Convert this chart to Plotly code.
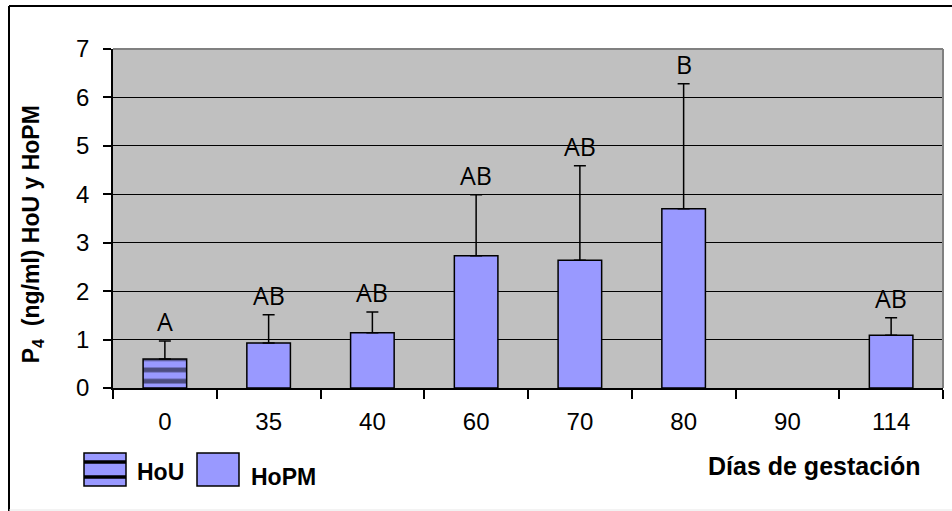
import plotly.graph_objects as go

categories = ["0", "35", "40", "60", "70", "80", "90", "114"]

hou_days = ["0"]
hou_vals = [0.60]
hou_err = [0.37]

hopm_days = ["35", "40", "60", "70", "80", "114"]
hopm_vals = [0.93, 1.14, 2.73, 2.64, 3.70, 1.09]
hopm_err = [0.58, 0.43, 1.26, 1.95, 2.58, 0.36]

letter_days = ["0", "35", "40", "60", "70", "80", "114"]
letters = ["A", "AB", "AB", "AB", "AB", "B", "AB"]

y_ticks = [0, 1, 2, 3, 4, 5, 6, 7]

BAR = "#9999FF"
PLOTBG = "#C0C0C0"

fig = go.Figure()
fig.add_trace(go.Bar(
    x=hou_days, y=hou_vals, name="HoU", width=0.42,
    marker=dict(color=BAR, line=dict(color="black", width=1.5),
                pattern=dict(shape="-", size=11.26, solidity=0.42, fgcolor="black", bgcolor=BAR)),
    error_y=dict(type="data", symmetric=False, array=hou_err, arrayminus=[0] * len(hou_err),
                 color="black", thickness=1.5, width=6),
))
fig.add_trace(go.Bar(
    x=hopm_days, y=hopm_vals, name="HoPM", width=0.42,
    marker=dict(color=BAR, line=dict(color="black", width=1.5)),
    error_y=dict(type="data", symmetric=False, array=hopm_err, arrayminus=[0] * len(hopm_err),
                 color="black", thickness=1.5, width=6),
))

# significance letters above error bars
tops = {}
for d, v, e in zip(hou_days, hou_vals, hou_err):
    tops[d] = v + e
for d, v, e in zip(hopm_days, hopm_vals, hopm_err):
    tops[d] = v + e
for d, t in zip(letter_days, letters):
    fig.add_annotation(x=categories.index(d), y=tops[d], text=t, showarrow=False,
                       yanchor="middle", yshift=20,
                       font=dict(family="Open Sans", size=25, color="black"))

# y-axis title
fig.add_annotation(xref="paper", yref="paper", x=-0.097, y=0.455, xanchor="center", yanchor="middle",
                   text="<b>P<sub>4</sub>  (ng/ml) HoU y HoPM</b>", textangle=-90, showarrow=False,
                   font=dict(family="Liberation Sans", size=23, color="black"))
# x-axis title
fig.add_annotation(xref="paper", yref="paper", x=0.976, y=-0.23, xanchor="right", yanchor="middle",
                   text="<b>Días de gestación</b>", showarrow=False,
                   font=dict(family="Liberation Sans", size=25, color="black"))

# manual legend (paper coords converted from pixels)
W, H = 952, 511
L, R, T, B = 113, 9, 49, 123
pw, ph = W - L - R, H - T - B


def px(x):
    return (x - L) / pw


def py(y):
    return (H - B - y) / ph


shapes = []
shapes.append(dict(type="rect", xref="paper", yref="paper", x0=px(84), x1=px(126), y0=py(486), y1=py(453),
                   fillcolor=BAR, line=dict(color="black", width=1.5)))
for yy in (462, 477):
    shapes.append(dict(type="line", xref="paper", yref="paper", x0=px(84), x1=px(126), y0=py(yy), y1=py(yy),
                       line=dict(color="black", width=3.5)))
shapes.append(dict(type="rect", xref="paper", yref="paper", x0=px(197), x1=px(239), y0=py(486), y1=py(453),
                   fillcolor=BAR, line=dict(color="black", width=1.5)))
fig.add_annotation(xref="paper", yref="paper", x=px(135), y=py(472), xanchor="left", yanchor="middle",
                   text="<b>HoU</b>", showarrow=False, font=dict(family="Liberation Sans", size=23, color="black"))
fig.add_annotation(xref="paper", yref="paper", x=px(249), y=py(477), xanchor="left", yanchor="middle",
                   text="<b>HoPM</b>", showarrow=False, font=dict(family="Liberation Sans", size=23, color="black"))

# plot frame (grey top/right)
shapes.append(dict(type="line", xref="paper", yref="paper", x0=0, x1=1, y0=1, y1=1,
                   line=dict(color="#808080", width=2)))
shapes.append(dict(type="line", xref="paper", yref="paper", x0=1, x1=1, y0=0, y1=1,
                   line=dict(color="#808080", width=2)))
# outer chart border
shapes.append(dict(type="line", xref="paper", yref="paper", x0=px(9), x1=px(9), y0=py(6), y1=py(511),
                   line=dict(color="black", width=2)))
shapes.append(dict(type="line", xref="paper", yref="paper", x0=px(9), x1=px(952), y0=py(6), y1=py(6),
                   line=dict(color="black", width=2)))
shapes.append(dict(type="line", xref="paper", yref="paper", x0=px(9), x1=px(952), y0=py(510), y1=py(510),
                   line=dict(color="#E6E6E6", width=1)))
fig.update_layout(shapes=shapes)

fig.update_layout(
    width=W, height=H,
    margin=dict(l=L, r=R, t=T, b=B),
    paper_bgcolor="white", plot_bgcolor=PLOTBG,
    barmode="overlay", showlegend=False,
    font=dict(family="Liberation Sans", color="black"),
)
fig.update_xaxes(type="category", categoryorder="array", categoryarray=categories,
                 range=[-0.5, len(categories) - 0.5],
                 showline=True, linecolor="black", linewidth=1.5,
                 ticks="outside", tickson="boundaries", ticklen=9, tickcolor="black", tickwidth=1.5,
                 showgrid=False, tickfont=dict(size=24), ticklabelstandoff=11)
fig.update_yaxes(range=[0, 7], tickvals=y_ticks, showline=True, linecolor="black", linewidth=1.5,
                 ticks="outside", ticklen=8, tickcolor="black", tickwidth=1.5,
                 showgrid=True, gridcolor="black", gridwidth=1, zeroline=False,
                 tickfont=dict(size=24), ticklabelstandoff=9)

fig.write_html("out.html", config={"displayModeBar": False},
               post_script="document.body.style.margin='0px';")
